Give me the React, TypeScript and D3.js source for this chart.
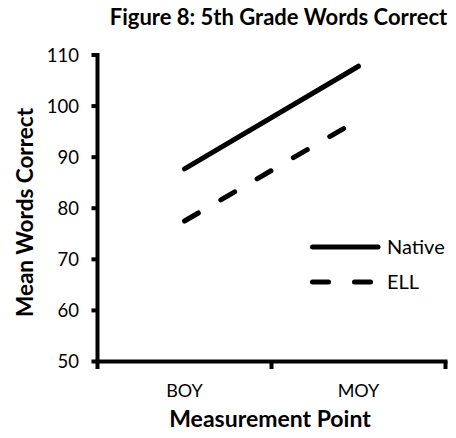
import React from "react";
import * as d3 from "d3";

const categories = ["BOY", "MOY"];
const nativeValues = [87.7, 107.8];
const ellValues = [77.5, 97.3];
const yTicks = [50, 60, 70, 80, 90, 100, 110];
const seriesNames = ["Native", "ELL"];

const W = 456;
const H = 438;
const FONT = "Lato, 'Open Sans', sans-serif";

export default function App() {
  const y = d3.scaleLinear().domain([50, 110]).range([361.5, 55]);
  const x = d3.scaleBand<string>().domain(categories).range([97.5, 445.5]).padding(0);
  const cx = (c: string) => (x(c) as number) + x.bandwidth() / 2;

  const line = d3
    .line<number>()
    .x((_, i) => cx(categories[i]))
    .y((v) => y(v));

  const series = [
    { name: seriesNames[0], values: nativeValues, dash: undefined as string | undefined },
    { name: seriesNames[1], values: ellValues, dash: "16,26" },
  ];

  const xEdges = [...categories.map((c) => x(c) as number), 445.5];
  const axisY = y(50);
  const axisX = 97.5;

  return (
    <svg
      width={W}
      height={H}
      style={{ position: "absolute", left: 0, top: 0, background: "#fff" }}
      fontFamily={FONT}
    >
      <rect width={W} height={H} fill="#fff" />
      <text x={278.5} y={25} textAnchor="middle" fontWeight="bold" fontSize={22} fill="#000">
        Figure 8: 5th Grade Words Correct
      </text>

      {/* y axis */}
      <line x1={axisX} x2={axisX} y1={y(110) - 2} y2={axisY + 2} stroke="#000" strokeWidth={4} />
      {yTicks.map((t) => (
        <g key={t}>
          <line x1={91.5} x2={axisX} y1={y(t)} y2={y(t)} stroke="#000" strokeWidth={4} />
          <text x={79} y={y(t)} dy="0.36em" textAnchor="end" fontSize={18.5} fill="#000">
            {t}
          </text>
        </g>
      ))}

      {/* x axis */}
      <line x1={axisX - 2} x2={447.5} y1={axisY} y2={axisY} stroke="#000" strokeWidth={4} />
      {xEdges.map((e, i) => (
        <line key={i} x1={e} x2={e} y1={axisY} y2={axisY + 7.5} stroke="#000" strokeWidth={4} />
      ))}
      {categories.map((c) => (
        <text key={c} x={cx(c)} y={397} textAnchor="middle" fontSize={18} fill="#000">
          {c}
        </text>
      ))}

      <text x={270} y={427} textAnchor="middle" fontWeight="bold" fontSize={23} fill="#000">
        Measurement Point
      </text>
      <text
        transform={`translate(33,212.5) rotate(-90)`}
        textAnchor="middle"
        fontWeight="bold"
        fontSize={22.5}
        fill="#000"
      >
        Mean Words Correct
      </text>

      {series.map((s) => (
        <path
          key={s.name}
          d={line(s.values) || ""}
          fill="none"
          stroke="#000"
          strokeWidth={5}
          strokeLinecap="round"
          strokeDasharray={s.dash}
        />
      ))}

      {/* legend */}
      {series.map((s, i) => {
        const ly = 247 + i * 35;
        return (
          <g key={s.name}>
            <line
              x1={312.5}
              x2={378}
              y1={ly}
              y2={ly}
              stroke="#000"
              strokeWidth={5}
              strokeLinecap="round"
              strokeDasharray={s.dash}
            />
            <text x={387} y={ly} dy="0.36em" fontSize={20} fill="#000">
              {s.name}
            </text>
          </g>
        );
      })}
    </svg>
  );
}
